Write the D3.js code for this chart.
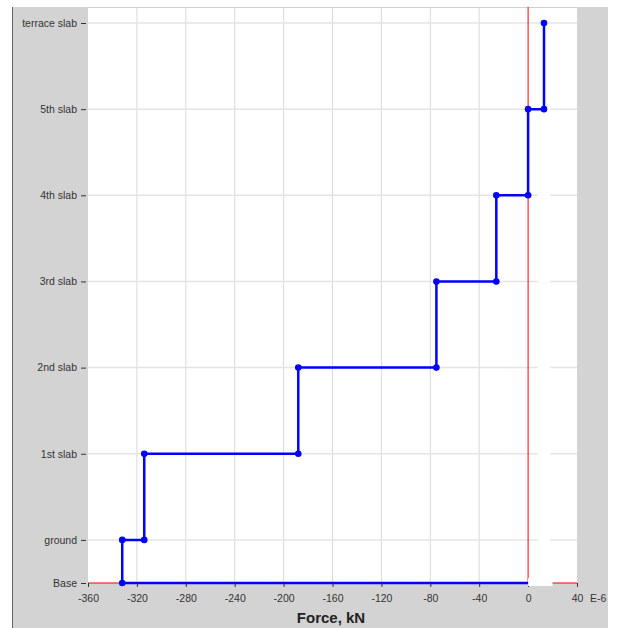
<!DOCTYPE html>
<html>
<head>
<meta charset="utf-8">
<script src="https://cdn.jsdelivr.net/npm/d3@7"></script>
<style>
body { margin: 0; background: #fff; }
text { font-family: "Liberation Sans", Arial, sans-serif; }
</style>
</head>
<body>
<div id="chart"></div>
<script>
// storey levels, bottom to top
var levelNames = ["Base", "ground", "1st slab", "2nd slab", "3rd slab", "4th slab", "5th slab", "terrace slab"];
var levelPos = [0, 1, 3, 5, 7, 9, 11, 13];
// storey shear force between level i and level i+1 (kN)
var forces = [-332, -314, -188, -75, -26, 0, 13];
var xTicks = [-360, -320, -280, -240, -200, -160, -120, -80, -40, 0, 40];

var width = 618, height = 628;
var plotL = 88, plotR = 577, plotT = 7, plotB = 583;

var svg = d3.select('#chart').append('svg')
    .attr('width', width)
    .attr('height', height);

// grey panel
svg.append('rect').attr('x', 12).attr('y', 7).attr('width', 596).attr('height', 621).attr('fill', '#d3d3d3');
svg.append('line').attr('x1', 12.5).attr('x2', 12.5).attr('y1', 7).attr('y2', 628).attr('stroke', '#666');
svg.append('rect').attr('x', plotL).attr('y', plotT).attr('width', plotR - plotL).attr('height', plotB - plotT).attr('fill', '#fff');

var x = d3.scaleLinear().domain([-360, 40]).range([plotL, plotR]);
var y = d3.scaleLinear().domain([0, 13]).range([plotB, plotT + 16]);

// grid
svg.append('g').selectAll('line')
    .data(xTicks.filter(function (d) {return d > -360 && d < 0;}))
    .enter().append('line')
    .attr('x1', function (d) {return x(d);})
    .attr('x2', function (d) {return x(d);})
    .attr('y1', plotT).attr('y2', plotB)
    .attr('stroke', '#d9d9d9');

svg.append('g').selectAll('line')
    .data(levelPos.slice(1))
    .enter().append('line')
    .attr('x1', plotL).attr('x2', plotR)
    .attr('y1', function (d) {return y(d);})
    .attr('y2', function (d) {return y(d);})
    .attr('stroke', '#e4e4e4')
    .attr('stroke-width', 1.5);

// small gaps in grid lines near the right
svg.append('g').selectAll('rect')
    .data(levelPos.slice(1, 7))
    .enter().append('rect')
    .attr('x', x(8)).attr('width', x(18) - x(8))
    .attr('y', function (d) {return y(d) - 2;})
    .attr('height', 4)
    .attr('fill', '#fff');

// top border
svg.append('line').attr('x1', plotL).attr('x2', plotR).attr('y1', plotT + 0.5).attr('y2', plotT + 0.5).attr('stroke', '#d0d0d0');

// zero lines
svg.append('line')
    .attr('x1', x(0)).attr('x2', x(0))
    .attr('y1', plotT).attr('y2', plotB)
    .attr('stroke', '#ff0000');
svg.append('line')
    .attr('x1', plotL).attr('x2', plotR)
    .attr('y1', y(0)).attr('y2', y(0))
    .attr('stroke', '#ff0000');

// axes
var yAxis = d3.axisLeft(y)
    .tickValues(levelPos)
    .tickFormat(function (d, i) {return levelNames[i];})
    .tickSize(5)
    .tickPadding(4);
var gy = svg.append('g').attr('transform', 'translate(' + (plotL - 2) + ',0)').call(yAxis);
gy.select('.domain').remove();
gy.selectAll('line').attr('stroke', '#333');
gy.selectAll('text').attr('font-size', '10.5px').attr('fill', '#333');

var xAxis = d3.axisBottom(x)
    .tickValues(xTicks)
    .tickFormat(function (d) {return String(d);})
    .tickSize(4)
    .tickPadding(8);
var gx = svg.append('g').attr('transform', 'translate(0,' + plotB + ')').call(xAxis);
gx.select('.domain').remove();
gx.selectAll('line').attr('stroke', '#333');
gx.selectAll('text').attr('font-size', '10.5px').attr('fill', '#333');

// exponent note, on the same line as the tick labels
gx.append('text')
    .attr('x', 590).attr('y', 12).attr('dy', '0.71em')
    .attr('text-anchor', 'start')
    .attr('font-size', '10.5px').attr('fill', '#333')
    .text('E-6');

svg.append('text')
    .attr('x', 331).attr('y', 623)
    .attr('text-anchor', 'middle')
    .attr('font-size', '15px').attr('font-weight', 'bold').attr('fill', '#222')
    .text('Force, kN');

// white patch at the foot of the zero line
svg.append('rect').attr('x', x(0)).attr('y', y(0) - 5).attr('width', x(20) - x(0)).attr('height', 8).attr('fill', '#fff');

// step profile
var pts = [];
forces.forEach(function (f, i) {
    pts.push([f, levelPos[i]]);
    pts.push([f, levelPos[i + 1]]);
});

var line = d3.line()
    .x(function (d) {return x(d[0]);})
    .y(function (d) {return y(d[1]);});

svg.append('path')
    .attr('d', line([[forces[0], 0], [0, 0]]))
    .attr('fill', 'none')
    .attr('stroke', '#0000ff')
    .attr('stroke-width', 2.5);

svg.append('path')
    .attr('d', line(pts))
    .attr('fill', 'none')
    .attr('stroke', '#0000ff')
    .attr('stroke-width', 2.5);

svg.append('g').selectAll('circle')
    .data(pts)
    .enter().append('circle')
    .attr('cx', function (d) {return x(d[0]);})
    .attr('cy', function (d) {return y(d[1]);})
    .attr('r', 3.3)
    .attr('fill', '#0000ff');
</script>
</body>
</html>
